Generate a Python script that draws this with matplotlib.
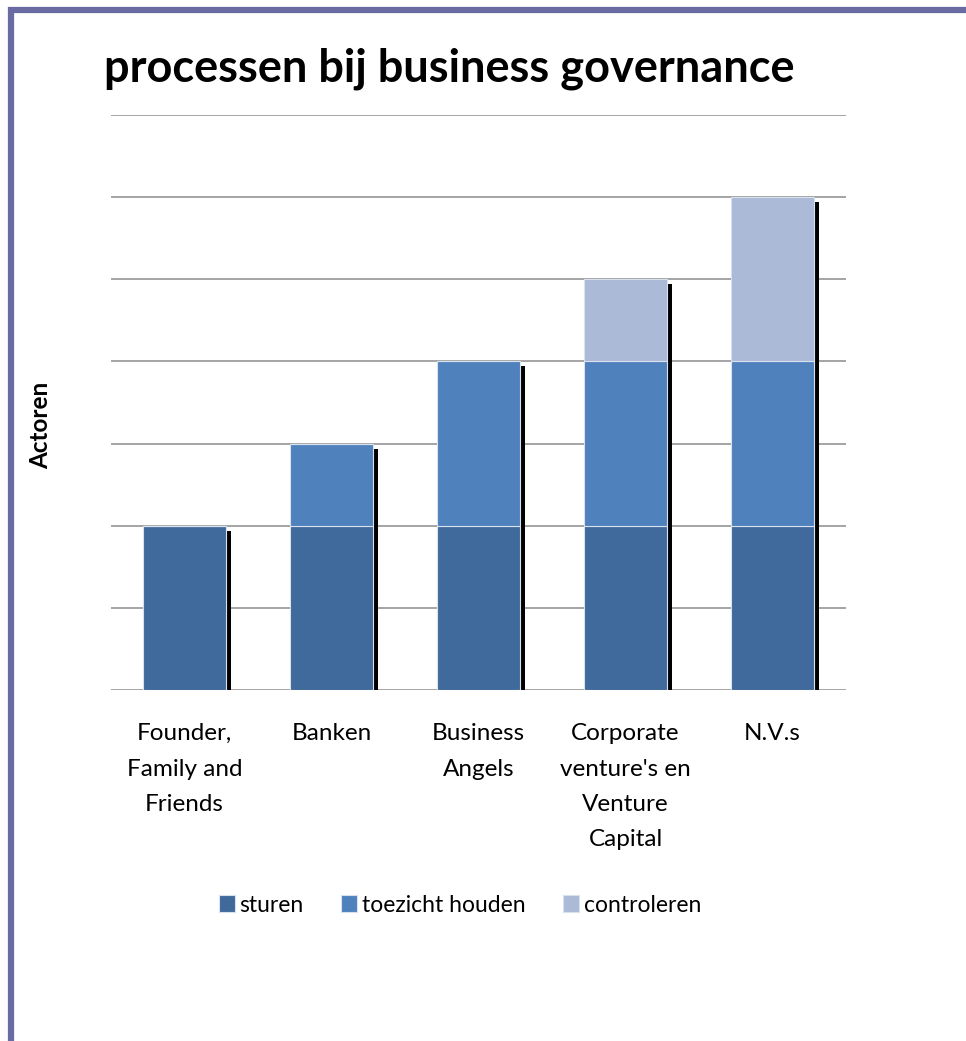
import matplotlib
matplotlib.use("Agg")
import matplotlib.pyplot as plt
from matplotlib.patches import Rectangle
import numpy as np

plt.rcParams['font.family'] = ['Lato', 'DejaVu Sans']

categories = ["Founder,\nFamily and\nFriends", "Banken", "Business\nAngels",
              "Corporate\nventure's en\nVenture\nCapital", "N.V.s"]
sturen = [2, 2, 2, 2, 2]
toezicht = [0, 1, 2, 2, 2]
controleren = [0, 0, 0, 1, 2]
series = ["sturen", "toezicht houden", "controleren"]
colors = ["#3F6A9B", "#4F81BD", "#AABAD7"]

fig = plt.figure(figsize=(9.66, 10.41), dpi=100)
ax = fig.add_axes([111/966, 1 - 690/1041, 735/966, 575/1041])

x = np.arange(len(categories))
w = 0.565
data = [np.array(sturen), np.array(toezicht), np.array(controleren)]
totals = data[0] + data[1] + data[2]

# shadow on right side of each bar
ax.bar(x + w/2 + 0.017, totals - 0.06, width=0.034, color="black", zorder=2)

bottom = np.zeros(len(x))
for vals, name, c in zip(data, series, colors):
    ax.bar(x, vals, w, bottom=bottom, color=c, edgecolor="#D9E1EE",
           linewidth=0.8, label=name, zorder=3)
    bottom = bottom + vals

ax.set_xlim(-0.5, 4.5)
ax.set_ylim(0, 7)
ax.set_yticks(np.arange(0, 8))
ax.set_yticklabels([])
ax.tick_params(axis="both", length=0)
ax.yaxis.grid(True, color="#8C8C8C", linewidth=1.1, zorder=0)
ax.set_axisbelow(True)
for s in ax.spines.values():
    s.set_visible(False)
ax.set_xticks(x)
ax.set_xticklabels(categories, fontsize=17.5, linespacing=1.84, va="top")
ax.tick_params(axis="x", pad=24)
ax.set_ylabel("Actoren", fontsize=17.5, fontweight="bold")
ax.yaxis.set_label_coords(-0.08, 0.46)

fig.text(104/966, 1 - 82/1041, "processen bij business governance",
         fontsize=32.5, fontweight="bold", ha="left", va="baseline")

ax.legend(loc="center", bbox_to_anchor=(460/966, 1 - 905/1041),
          bbox_transform=fig.transFigure, ncol=3, frameon=False,
          fontsize=16.5, handlelength=0.7, handleheight=0.7,
          handletextpad=0.2, columnspacing=1.65)

# purple frame on left and top
frame = Rectangle((10.5/966, -0.05), 1.2, 1 - 9.5/1041 + 0.05,
                  transform=fig.transFigure, fill=False,
                  edgecolor="#6A6BA3", linewidth=4.5)
fig.patches.append(frame)

fig.savefig("out.png", dpi=100)
